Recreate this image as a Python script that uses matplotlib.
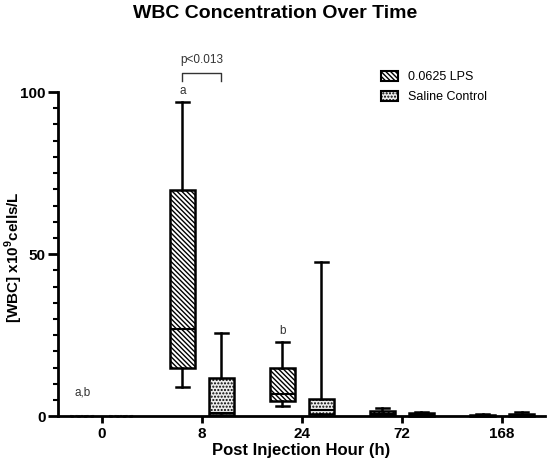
import matplotlib
matplotlib.use("Agg")
import matplotlib.pyplot as plt
from matplotlib.patches import Patch
from matplotlib.ticker import MultipleLocator

plt.rcParams['font.family'] = ['Liberation Sans', 'DejaVu Sans']
plt.rcParams['hatch.linewidth'] = 1.0
plt.rcParams['mathtext.fontset'] = 'custom'
plt.rcParams['mathtext.bf'] = 'Liberation Sans:bold'
plt.rcParams['mathtext.rm'] = 'Liberation Sans'

hours = ["0", "8", "24", "72", "168"]
# LPS group: whisker low, q1, median, q3, whisker high
lps_lo = [0.0, 9.0, 3.1, 0.2, 0.0]
lps_q1 = [0.0, 14.8, 4.6, 0.4, 0.0]
lps_med = [0.0, 26.9, 6.8, 0.8, 0.2]
lps_q3 = [0.0, 69.8, 14.8, 1.5, 0.4]
lps_hi = [0.0, 96.9, 22.8, 2.6, 0.6]
# Saline control group
sal_lo = [0.0, 0.0, 0.0, 0.0, 0.0]
sal_q1 = [0.0, 0.3, 0.6, 0.2, 0.1]
sal_med = [0.0, 1.0, 2.0, 0.5, 0.4]
sal_q3 = [0.0, 11.7, 5.2, 1.0, 0.8]
sal_hi = [0.0, 25.6, 47.5, 1.3, 1.2]

fig = plt.figure(figsize=(5.5, 4.65), dpi=100)
ax = fig.add_axes([0.105, 0.105, 0.886, 0.697])

def stats(lo, q1, med, q3, hi):
    return [dict(whislo=a, q1=b, med=c, q3=d, whishi=e, fliers=[])
            for a, b, c, d, e in zip(lo, q1, med, q3, hi)]

pos = list(range(len(hours)))
off = 0.195
w = 0.245
hatch_lps = '\\' * 7
hatch_sal = '.' * 5
sal_face = '#ededed'
common = dict(widths=w, patch_artist=True, showfliers=False, manage_ticks=False,
              whiskerprops=dict(linewidth=1.8, color='black'),
              capprops=dict(linewidth=1.8, color='black'),
              medianprops=dict(linewidth=1.5, color='black'),
              capwidths=0.13)
b1 = ax.bxp(stats(lps_lo, lps_q1, lps_med, lps_q3, lps_hi),
            positions=[p - off for p in pos],
            boxprops=dict(linewidth=1.8, edgecolor='black', facecolor='white', hatch=hatch_lps),
            **common)
b2 = ax.bxp(stats(sal_lo, sal_q1, sal_med, sal_q3, sal_hi),
            positions=[p + off for p in pos],
            boxprops=dict(linewidth=1.8, edgecolor='black', facecolor=sal_face, hatch=hatch_sal),
            **common)
for b in (b1, b2):
    for el in b['boxes']:
        el.set_clip_on(False)
    b['boxes'][0].set_linestyle(':')
    b['boxes'][0].set_edgecolor('#666666')
    b['medians'][0].set_linestyle(':')
    b['medians'][0].set_color('#666666')
    for k in ('whiskers', 'caps'):
        for ln in b[k][0:2]:
            ln.set_visible(False)

ax.set_xlim(-0.44, 4.43)
ax.set_ylim(0, 100)
ax.set_xticks(pos)
ax.set_xticklabels(hours)
ax.set_yticks([0, 50, 100])
ax.yaxis.set_minor_locator(MultipleLocator(5))
for s in ('top', 'right'):
    ax.spines[s].set_visible(False)
for s in ('left', 'bottom'):
    ax.spines[s].set_linewidth(2)
ax.tick_params(axis='y', which='major', width=2, length=7, labelsize=11, pad=1.5)
ax.tick_params(axis='x', which='major', width=2, length=5, labelsize=11, pad=3)
ax.tick_params(axis='y', which='minor', width=1.5, length=3.5)
for lab in ax.get_xticklabels() + ax.get_yticklabels():
    lab.set_fontweight('bold')

ax.set_xlabel("Post Injection Hour (h)", fontsize=12, fontweight='bold', labelpad=1)
ax.set_ylabel("[WBC] x10$^{\\mathbf{9}}$cells/L", fontsize=11, fontweight='bold')
ax.yaxis.set_label_coords(-0.068, 0.49)
fig.suptitle("WBC Concentration Over Time", fontsize=14, fontweight='bold', y=0.99)

# annotations
ax.text(0 - off, 5.5, "a,b", ha='center', va='bottom', fontsize=8.5, color='#333333')
ax.text(1 - off, 98.5, "a", ha='center', va='bottom', fontsize=8.5, color='#333333')
ax.text(2 - off, 24.5, "b", ha='center', va='bottom', fontsize=8.5, color='#333333')
ax.plot([1 - off, 1 - off, 1 + off, 1 + off], [103.5, 105.8, 105.8, 103.5],
        color='#333333', lw=1, clip_on=False)
ax.text(1, 108, "p<0.013", ha='center', va='bottom', fontsize=8.5, color='#333333')

handles = [Patch(facecolor='white', edgecolor='black', hatch=hatch_lps, lw=1.5, label='0.0625 LPS'),
           Patch(facecolor=sal_face, edgecolor='black', hatch=hatch_sal, lw=1.5, label='Saline Control')]
ax.legend(handles=handles, loc='upper left', bbox_to_anchor=(0.64, 1.10), frameon=False,
          fontsize=9, handlelength=1.4, handleheight=0.9, labelspacing=0.6)

fig.savefig("out.png", dpi=100)
